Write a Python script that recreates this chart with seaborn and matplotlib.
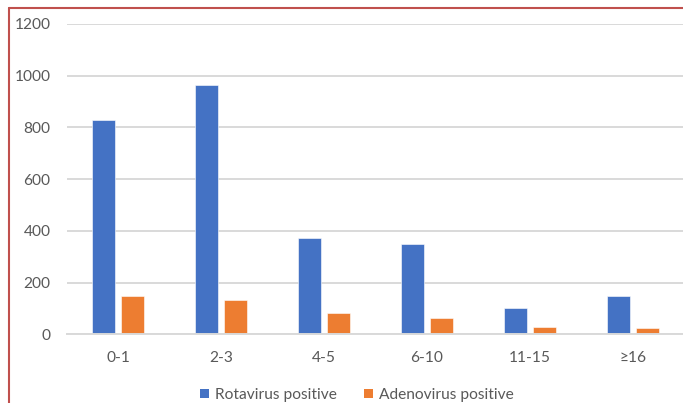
import matplotlib
matplotlib.use("Agg")
import matplotlib.pyplot as plt
from matplotlib.lines import Line2D
from matplotlib.patches import Patch
import seaborn as sns
import pandas as pd

categories = ["0-1", "2-3", "4-5", "6-10", "11-15", "≥16"]
rotavirus = [828, 963, 373, 351, 100, 149]
adenovirus = [150, 131, 81, 64, 29, 23]
series_names = ["Rotavirus positive", "Adenovirus positive"]
colors = ["#4472C4", "#ED7D31"]
yticks = [0, 200, 400, 600, 800, 1000, 1200]

df = pd.DataFrame({
    "Age": categories * 2,
    "Value": rotavirus + adenovirus,
    "Series": [series_names[0]] * len(categories) + [series_names[1]] * len(categories),
})

sns.set_theme(style="white")
plt.rcParams["font.family"] = ["Lato", "DejaVu Sans"]

fig = plt.figure(figsize=(6.83, 4.03), dpi=100)
ax = fig.add_axes([66.5 / 683, (403 - 334.3) / 403, 618 / 683, 310.3 / 403])

sns.barplot(data=df, x="Age", y="Value", hue="Series", palette=colors,
            width=0.56, gap=0.2, ax=ax, legend=False,
            edgecolor="white", linewidth=0.4, saturation=1)

ax.set_ylim(0, 1200)
ax.set_xlim(-0.5, len(categories) - 0.5)
ax.set_yticks(yticks)
ax.yaxis.grid(True, color="#D9D9D9", linewidth=1.4)
ax.set_axisbelow(True)
for s in ["top", "right", "left"]:
    ax.spines[s].set_visible(False)
ax.spines["bottom"].set_color("#D9D9D9")
ax.spines["bottom"].set_linewidth(1.4)
ax.tick_params(axis="both", length=0, labelsize=11.2, labelcolor="#595959")
ax.tick_params(axis="x", pad=12)
ax.tick_params(axis="y", pad=11.5)
ax.set_xlabel("")
ax.set_ylabel("")

handles = [Patch(facecolor=c, edgecolor="none") for c in colors]
fig.legend(handles, series_names, loc="center", bbox_to_anchor=(357 / 683, 1 - 395 / 403),
           ncol=2, frameon=False, fontsize=11.2, labelcolor="#595959",
           handlelength=0.6, handleheight=0.6, handletextpad=0.4, columnspacing=1.7)

# red border frame
fig.add_artist(Line2D([9 / 683, 1.0], [1 - 7.5 / 403, 1 - 7.5 / 403], transform=fig.transFigure,
                      color="#C0504D", linewidth=1.5))
fig.add_artist(Line2D([9 / 683, 9 / 683], [0.0, 1 - 7.5 / 403], transform=fig.transFigure,
                      color="#C0504D", linewidth=1.5))

fig.savefig("out.png", dpi=100, facecolor="white")
